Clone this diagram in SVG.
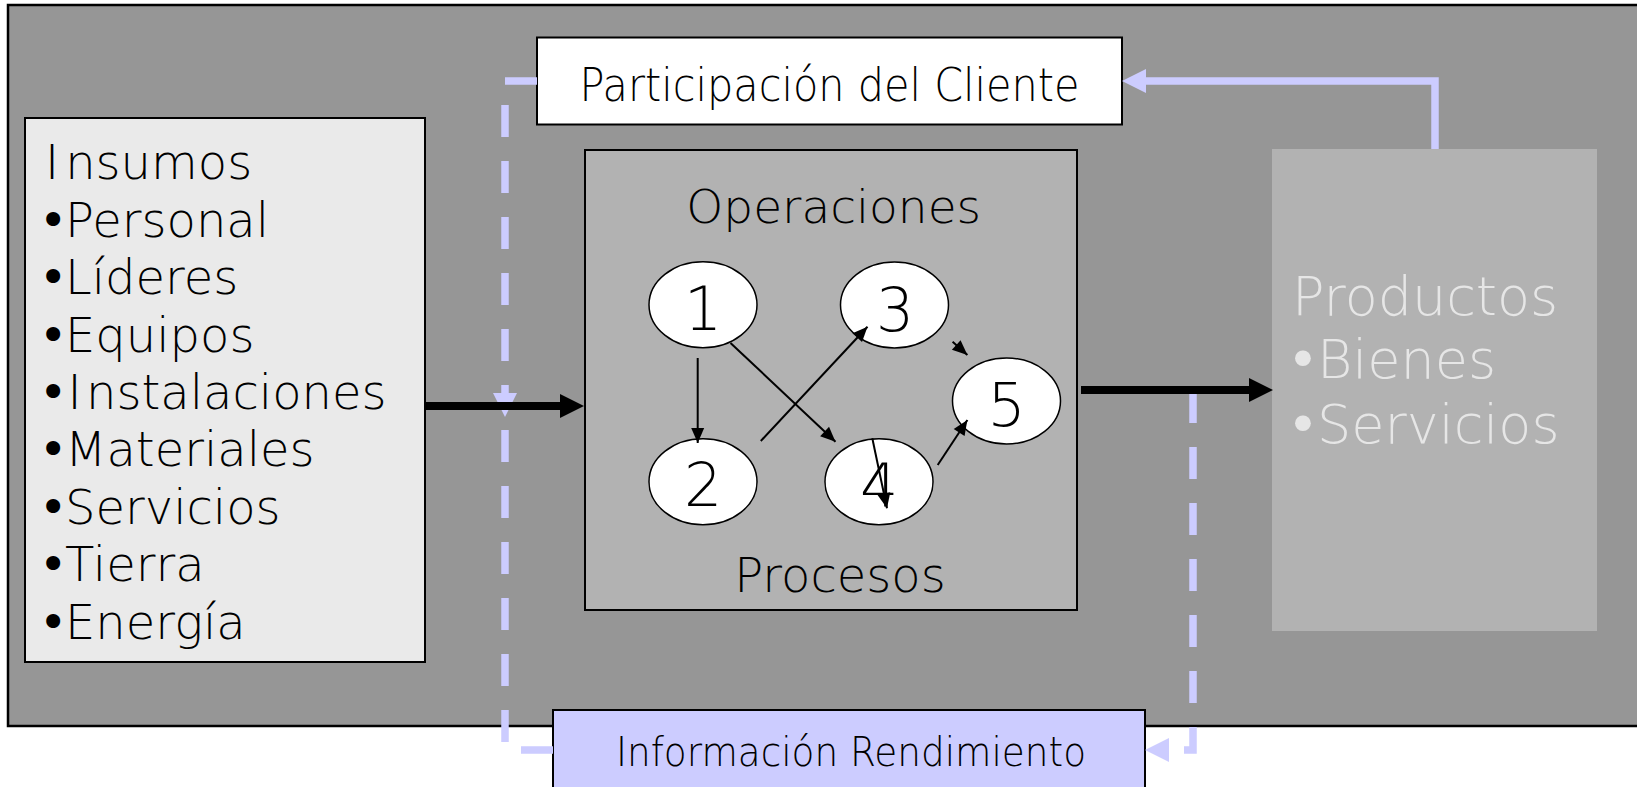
<svg xmlns="http://www.w3.org/2000/svg" width="1637" height="787" viewBox="0 0 1637 787">
  <style>
    text { font-family: "DejaVu Sans", "Liberation Sans", sans-serif; font-weight: 300; fill: #000; }
    .dot { font-weight: 400; }
    .box { stroke: #000; stroke-width: 2; }
    .bubble { fill: #fff; stroke: #000; stroke-width: 1.5; }
    .num { font-size: 60px; text-anchor: middle; }
    .list { font-size: 48px; }
    .light { fill: #e6e6e6; font-size: 54px; }
    .flow { fill: none; stroke: #000; stroke-width: 8; }
    .step { fill: none; stroke: #000; stroke-width: 2; }
    .feedback { fill: none; stroke: #ccccff; stroke-width: 7.5; }
    .dashed { stroke-dasharray: 32 24; }
  </style>
  <defs>
    <marker id="headBig" markerUnits="userSpaceOnUse" markerWidth="24" markerHeight="24" refX="0" refY="12" orient="auto" overflow="visible">
      <path d="M0,0 L24,12 L0,24 Z" fill="#000"/>
    </marker>
    <marker id="headLav" markerUnits="userSpaceOnUse" markerWidth="24" markerHeight="24" refX="0" refY="12" orient="auto" overflow="visible">
      <path d="M0,0 L24,12 L0,24 Z" fill="#ccccff"/>
    </marker>
    <marker id="headSmall" markerUnits="userSpaceOnUse" markerWidth="15" markerHeight="13" refX="15" refY="6.5" orient="auto" overflow="visible">
      <path d="M0,0 L15,6.5 L0,13 Z" fill="#000"/>
    </marker>
  </defs>

  <!-- system frame -->
  <rect x="8" y="5" width="1640" height="721" fill="#969696" stroke="#000" stroke-width="2.5"/>

  <g id="insumos">
    <rect class="box" x="25" y="118" width="400" height="544" fill="#eaeaea"/>
    <text class="list" x="45" y="179.3">I<tspan dx="6">nsumos</tspan></text>
    <text class="list" x="39" y="236.7"><tspan class="dot">•</tspan><tspan x="65">Personal</tspan></text>
    <text class="list" x="39" y="294.1"><tspan class="dot">•</tspan><tspan x="65">Líderes</tspan></text>
    <text class="list" x="39" y="351.5"><tspan class="dot">•</tspan><tspan x="65">Equipos</tspan></text>
    <text class="list" x="39" y="408.9"><tspan class="dot">•</tspan><tspan x="67.5">I</tspan><tspan x="86">nstalaciones</tspan></text>
    <text class="list" x="39" y="466.3"><tspan class="dot">•</tspan><tspan x="65">Materiales</tspan></text>
    <text class="list" x="39" y="523.7"><tspan class="dot">•</tspan><tspan x="65">Servicios</tspan></text>
    <text class="list" x="39" y="581.1"><tspan class="dot">•</tspan><tspan x="65">Tierra</tspan></text>
    <text class="list" x="39" y="638.5"><tspan class="dot">•</tspan><tspan x="65">Energía</tspan></text>
  </g>

  <g id="operaciones">
    <rect class="box" x="585" y="150" width="492" height="460" fill="#b2b2b2"/>
    <text x="833.7" y="222.7" font-size="47" text-anchor="middle">Operaciones</text>
    <text x="840" y="591.7" font-size="48" text-anchor="middle">Procesos</text>
  </g>

  <g id="paso-1">
    <ellipse class="bubble" cx="703" cy="304.7" rx="54" ry="43"/>
    <text class="num" x="703" y="330">1</text>
  </g>
  <g id="paso-2">
    <ellipse class="bubble" cx="703" cy="481.7" rx="54" ry="43"/>
    <text class="num" x="703" y="505.7">2</text>
  </g>
  <g id="paso-3">
    <ellipse class="bubble" cx="894.5" cy="305" rx="54" ry="43"/>
    <text class="num" x="895" y="330.7">3</text>
  </g>
  <g id="paso-4">
    <ellipse class="bubble" cx="879" cy="481.7" rx="54" ry="43"/>
    <text class="num" x="879" y="506.7">4</text>
  </g>
  <g id="paso-5">
    <ellipse class="bubble" cx="1006.5" cy="401" rx="54" ry="43"/>
    <text class="num" x="1006.5" y="426">5</text>
  </g>

  <g id="productos">
    <rect x="1272" y="149" width="325" height="482" fill="#b2b2b2"/>
    <text class="light" x="1292" y="315">Productos</text>
    <text class="light" x="1287" y="378.3"><tspan class="dot">•</tspan><tspan x="1317">Bienes</tspan></text>
    <text class="light" x="1287" y="442.7"><tspan class="dot">•</tspan><tspan x="1317">Servicios</tspan></text>
  </g>

  <g id="participacion">
    <rect class="box" x="537" y="37.5" width="585" height="87" fill="#fff"/>
    <text x="829.5" y="100.7" font-size="47" text-anchor="middle" textLength="500" lengthAdjust="spacingAndGlyphs">Participación del Cliente</text>
  </g>

  <g id="informacion">
    <rect class="box" x="553" y="710" width="592" height="90" fill="#ccccff"/>
    <text x="851" y="765.7" font-size="40" text-anchor="middle" textLength="470" lengthAdjust="spacingAndGlyphs">Información Rendimiento</text>
  </g>

  <g id="connectors">
    <!-- feedback loops -->
    <path class="feedback" d="M1435,149 V81 H1146" marker-end="url(#headLav)"/>
    <path class="feedback dashed" d="M537,81 H505 V393" marker-end="url(#headLav)"/>
    <path class="feedback dashed" d="M553,750 H505 V406"/>
    <path class="feedback dashed" d="M1193,391 V750 H1169" marker-end="url(#headLav)"/>
    <!-- main flow -->
    <path class="flow" d="M425,406 H560" marker-end="url(#headBig)"/>
    <path class="flow" d="M1081,390 H1249" marker-end="url(#headBig)"/>
    <!-- process steps -->
    <path class="step" d="M697.7,358 L697.7,443" marker-end="url(#headSmall)"/>
    <path class="step" d="M730.5,343 L835.5,441.7" marker-end="url(#headSmall)"/>
    <path class="step" d="M760.8,441 L867.5,326.7" marker-end="url(#headSmall)"/>
    <path class="step" d="M952.6,341.7 L967.4,355" marker-end="url(#headSmall)"/>
    <path class="step" d="M937.7,465 L967.4,420" marker-end="url(#headSmall)"/>
    <path class="step" d="M872.3,438.3 L887,508.3" marker-end="url(#headSmall)"/>
  </g>
</svg>
